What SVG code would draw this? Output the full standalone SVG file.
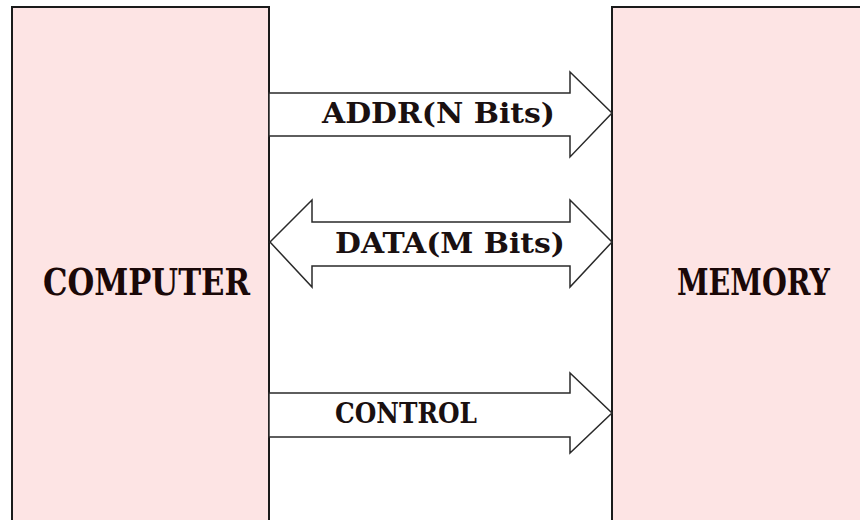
<svg xmlns="http://www.w3.org/2000/svg" width="860" height="520" viewBox="0 0 860 520">
<style>
.fill{fill:#fde4e4;stroke:none}
.edge{fill:none;stroke:#1a1a1a;stroke-width:2}
.arr{fill:#ffffff;stroke:#2a2a2a;stroke-width:1.5;stroke-linejoin:miter}
.big{font-family:"DejaVu Serif",serif;font-weight:bold;font-size:37px;fill:#1a0808;text-anchor:middle}
.lbl{font-family:"DejaVu Serif",serif;font-weight:bold;font-size:27px;fill:#1a1010;text-anchor:middle}
</style>
<rect width="860" height="520" fill="#ffffff"/>
<g id="computer">
<rect class="fill" x="12" y="7" width="257" height="513"/>
<path class="edge" d="M12,520 V7 H269 V520"/>
<text class="big" x="146.5" y="295" textLength="207" lengthAdjust="spacingAndGlyphs">COMPUTER</text>
</g>
<g id="memory">
<rect class="fill" x="612" y="7" width="248" height="513"/>
<path class="edge" d="M612,520 V7 H860"/>
<text class="big" x="753.5" y="295" textLength="153" lengthAdjust="spacingAndGlyphs">MEMORY</text>
</g>
<g id="connectors">
<g id="addr">
<polygon class="arr" points="269,93 570,93 570,72 612,113 570,157 570,136 269,136"/>
<text class="lbl" x="438.5" y="123" textLength="233" lengthAdjust="spacingAndGlyphs">ADDR(N Bits)</text>
</g>
<g id="data">
<polygon class="arr" points="270,242 312,200 312,222 570,222 570,200 612,242 570,287 570,266 312,266 312,287"/>
<text class="lbl" x="450" y="253" textLength="230" lengthAdjust="spacingAndGlyphs">DATA(M Bits)</text>
</g>
<g id="control">
<polygon class="arr" points="269,393 570,393 570,373 612,413 570,453 570,437 269,437"/>
<text class="lbl" x="406" y="423" textLength="142" lengthAdjust="spacingAndGlyphs">CONTROL</text>
</g>
</g>
</svg>
